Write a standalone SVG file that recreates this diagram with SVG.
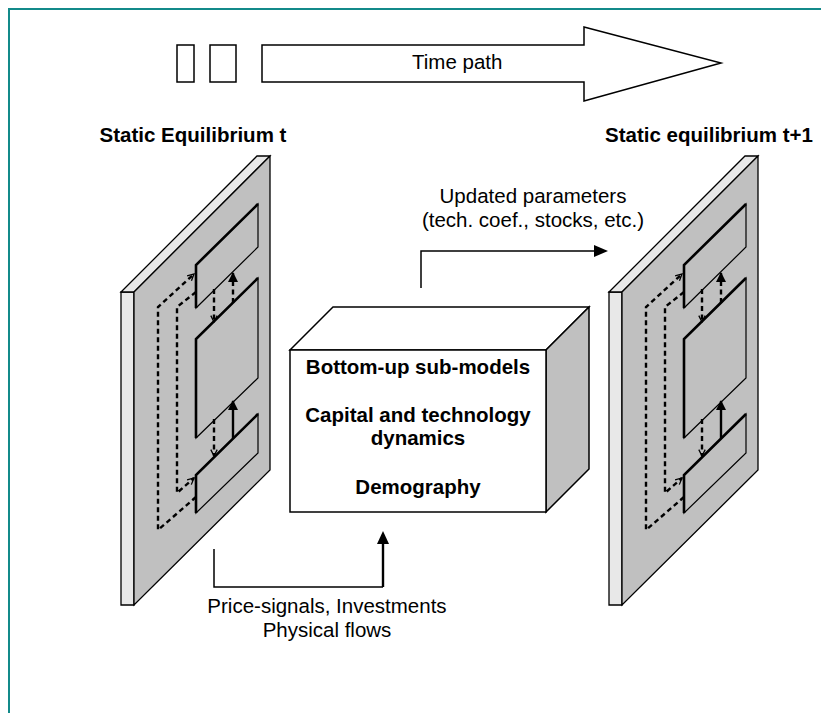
<svg xmlns="http://www.w3.org/2000/svg" width="821" height="713" viewBox="0 0 821 713">
<style>
  .ln{fill:none;stroke:#000;stroke-width:1.5}
  .wh{fill:#fff;stroke:#000;stroke-width:1.5;stroke-linejoin:miter}
  .face{fill:#c0c0c0;stroke:#000;stroke-width:1.3}
  .edge{fill:#e8e8e8;stroke:#000;stroke-width:1.3}
  .panel{fill:#c0c0c0;stroke:#000;stroke-width:1.2}
  .rim{fill:none;stroke:#000;stroke-width:2.6}
  .dash{fill:none;stroke:#000;stroke-width:2.4;stroke-dasharray:5,3.5}
  .solid{fill:none;stroke:#000;stroke-width:2.4}
  .t{font-family:"Liberation Sans",Arial,sans-serif;font-size:20.5px;fill:#000}
  .b{font-weight:bold;text-anchor:middle}
  .c{text-anchor:middle}
</style>
<defs>
  <marker id="chev" viewBox="0 0 10 10" refX="9" refY="5" markerWidth="8" markerHeight="8" markerUnits="userSpaceOnUse" orient="auto">
    <path d="M1,1 L9,5 L1,9" fill="none" stroke="#000" stroke-width="1.6"/>
  </marker>
  <marker id="tri" viewBox="0 0 10 10" refX="9" refY="5" markerWidth="10" markerHeight="10" markerUnits="userSpaceOnUse" orient="auto">
    <path d="M0,0 L10,5 L0,10 z" fill="#000"/>
  </marker>
  <g id="slabShape">
    <polygon class="edge" points="121,292 134,292 134,605 121,605"/>
    <polygon class="edge" points="121,292 257,156 270,156 134,292"/>
    <polygon class="face" points="134,292 270,156 270,470 134,605"/>
    <!-- inner panels -->
    <polygon class="panel" points="196,265 258,204 258,247 196,308"/>
    <polyline class="rim" points="196,308 196,265 258,204"/>
    <polygon class="panel" points="196,339 258,278 258,378 196,438"/>
    <polyline class="rim" points="196,438 196,339 258,278"/>
    <polygon class="panel" points="196,475 258,414 258,453 196,513"/>
    <polyline class="rim" points="196,513 196,475 258,414"/>
    <!-- feedback loops -->
    <path class="dash" d="M196,497 L158,530 L158,307 L194,274" marker-end="url(#chev)"/>
    <path class="dash" d="M196,292 L177,307 L177,493 L194,478" marker-end="url(#chev)"/>
    <!-- vertical exchanges -->
    <path class="dash" d="M214,289 V322" marker-end="url(#chev)"/>
    <path class="dash" d="M233,303 V273" marker-end="url(#tri)"/>
    <path class="dash" d="M214,419 V456" marker-end="url(#chev)"/>
    <path class="solid" d="M233,438 V401" marker-end="url(#tri)"/>
  </g>
</defs>

<g id="border">
  <path d="M9,713 V9 H821" fill="none" stroke="#138a8a" stroke-width="2"/>
</g>

<g id="timepath">
  <rect class="wh" x="177" y="45" width="17" height="37"/>
  <rect class="wh" x="210" y="45" width="26" height="37"/>
  <polygon class="wh" points="262,45 584,45 584,27 721,63 584,101 584,82 262,82"/>
  <text class="t" x="412" y="69">Time path</text>
</g>

<g id="slab-t">
  <use href="#slabShape"/>
  <text class="t b" x="193" y="142">Static Equilibrium t</text>
</g>

<g id="slab-t1">
  <use href="#slabShape" transform="translate(488,0)"/>
  <text class="t b" x="709" y="142">Static equilibrium t+1</text>
</g>

<g id="submodels">
  <polygon class="wh" points="290,350 333,307 589,307 546,350"/>
  <polygon class="face" points="546,350 589,307 589,469 546,512" style="stroke-width:1.5"/>
  <rect class="wh" x="290" y="350" width="256" height="162"/>
  <text class="t b" x="418" y="374">Bottom-up sub-models</text>
  <text class="t b" x="418" y="422">Capital and technology</text>
  <text class="t b" x="418" y="445">dynamics</text>
  <text class="t b" x="418" y="494">Demography</text>
</g>

<g id="connectors">
  <path class="ln" d="M214,549 V587 H383"/>
  <path d="M383,587 V541" fill="none" stroke="#000" stroke-width="2.4"/>
  <polygon points="383,531 377,544 389,544" fill="#000"/>
  <path class="ln" d="M421,288 V251 H596"/>
  <polygon points="608,251 594,245 594,257" fill="#000"/>
</g>

<g id="labels">
  <text class="t c" x="327" y="613">Price-signals, Investments</text>
  <text class="t c" x="327" y="637">Physical flows</text>
  <text class="t c" x="533" y="203">Updated parameters</text>
  <text class="t c" x="533" y="227">(tech. coef., stocks, etc.)</text>
</g>
</svg>
